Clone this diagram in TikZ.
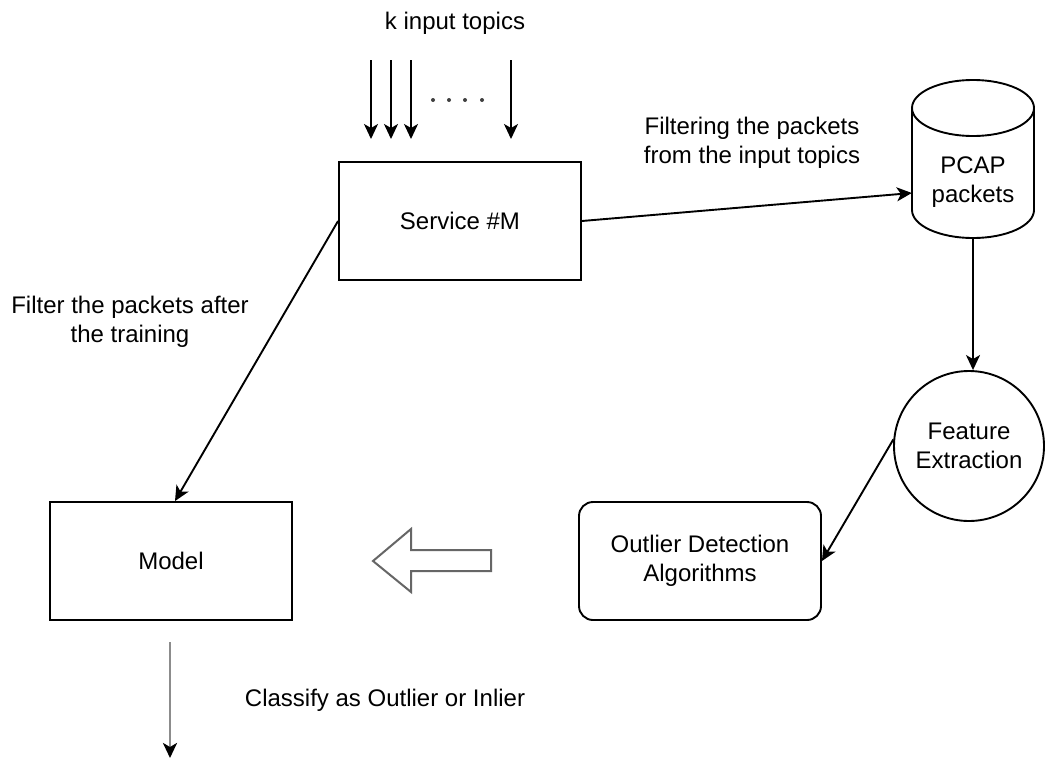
\documentclass[tikz,border=0pt]{standalone}
\usepackage{fontspec}
\setmainfont{Liberation Sans}
\usetikzlibrary{arrows.meta}
\newcommand\lbl{\fontsize{24}{29}\selectfont}
\tikzset{
  box/.style={draw=black, line width=1.9pt, minimum width=242pt, minimum height=118pt,
    inner sep=0pt, align=center, font=\lbl},
  roundbox/.style={box, rounded corners=14pt},
  txt/.style={align=center, font=\lbl, inner sep=0pt},
  conn/.style={line width=1.9pt, -{Stealth[length=15pt,width=14pt,inset=4pt]}},
  grayconn/.style={line width=2.8pt, draw=black!45,
    -{Stealth[length=15pt,width=14pt,inset=4pt,color=black]}},
  hollow/.style={draw=black!60, line width=2pt, line join=miter, fill=white},
  outline/.style={draw=black, line width=1.9pt}
}
\begin{document}
\begin{tikzpicture}[x=1pt, y=-1pt]
  \useasboundingbox[fill=white] (0,0) rectangle (1048,760);

  % input topics feeding the service
  \node[txt] (ktopics) at (455,23) {k input topics};
  \foreach \n/\xx in {1/371,2/391,3/411,4/511}{
    \coordinate (in\n s) at (\xx,60);
    \coordinate (in\n e) at (\xx,139);
    \draw[conn] (in\n s) -- (in\n e);
  }
  \foreach \xx in {433,449,465,482}
    \fill[black!75] (\xx,100) circle (2pt);

  % main blocks
  \node[box] (svc) at (460,221) {Service \#M};
  \node[box] (model) at (171,561) {Model};
  \node[roundbox] (outl) at (700,561) {Outlier Detection\\Algorithms};
  \node[draw=black, line width=1.9pt, circle, minimum size=150pt, inner sep=0pt,
        align=center, font=\lbl] (feat) at (969,446) {Feature\\Extraction};

  % packet store drawn as a cylinder around an empty frame node
  \node[minimum width=122pt, minimum height=158pt, inner sep=0pt] (cyl) at (973,159) {};
  \draw[outline, fill=white] (912,108) -- (912,210) arc[start angle=180, end angle=0,
        x radius=61, y radius=28] -- (1034,108);
  \draw[outline] (973,108) ellipse[x radius=61, y radius=28];
  \node[txt] (cyltext) at (973,182) {PCAP\\packets};

  % connectors
  \draw[conn] (svc.east) -- ([yshift=-34pt]cyl.west);
  \node[txt] (filtlbl) at (752,143) {Filtering the packets\\from the input topics};
  \draw[conn] (cyl.south) -- (cyl.south |- feat.north);
  \draw[conn] (feat.175) -- (outl.east);
  \draw[conn] (svc.west) -- ([xshift=4pt]model.north);
  \node[txt] (trainlbl) at (130,322) {Filter the packets after\\the training};

  % block arrow from the algorithms to the model
  \draw[hollow] (491,550) -- (411,550) -- (411,529) -- (373,561) -- (411,592)
        -- (411,571) -- (491,571) -- cycle;

  % classification output
  \coordinate (outA) at (170,642);
  \coordinate (outB) at (170,758);
  \draw[grayconn] (outA) -- (outB);
  \node[txt] (classlbl) at (385,700) {Classify as Outlier or Inlier};
\end{tikzpicture}
\end{document}
